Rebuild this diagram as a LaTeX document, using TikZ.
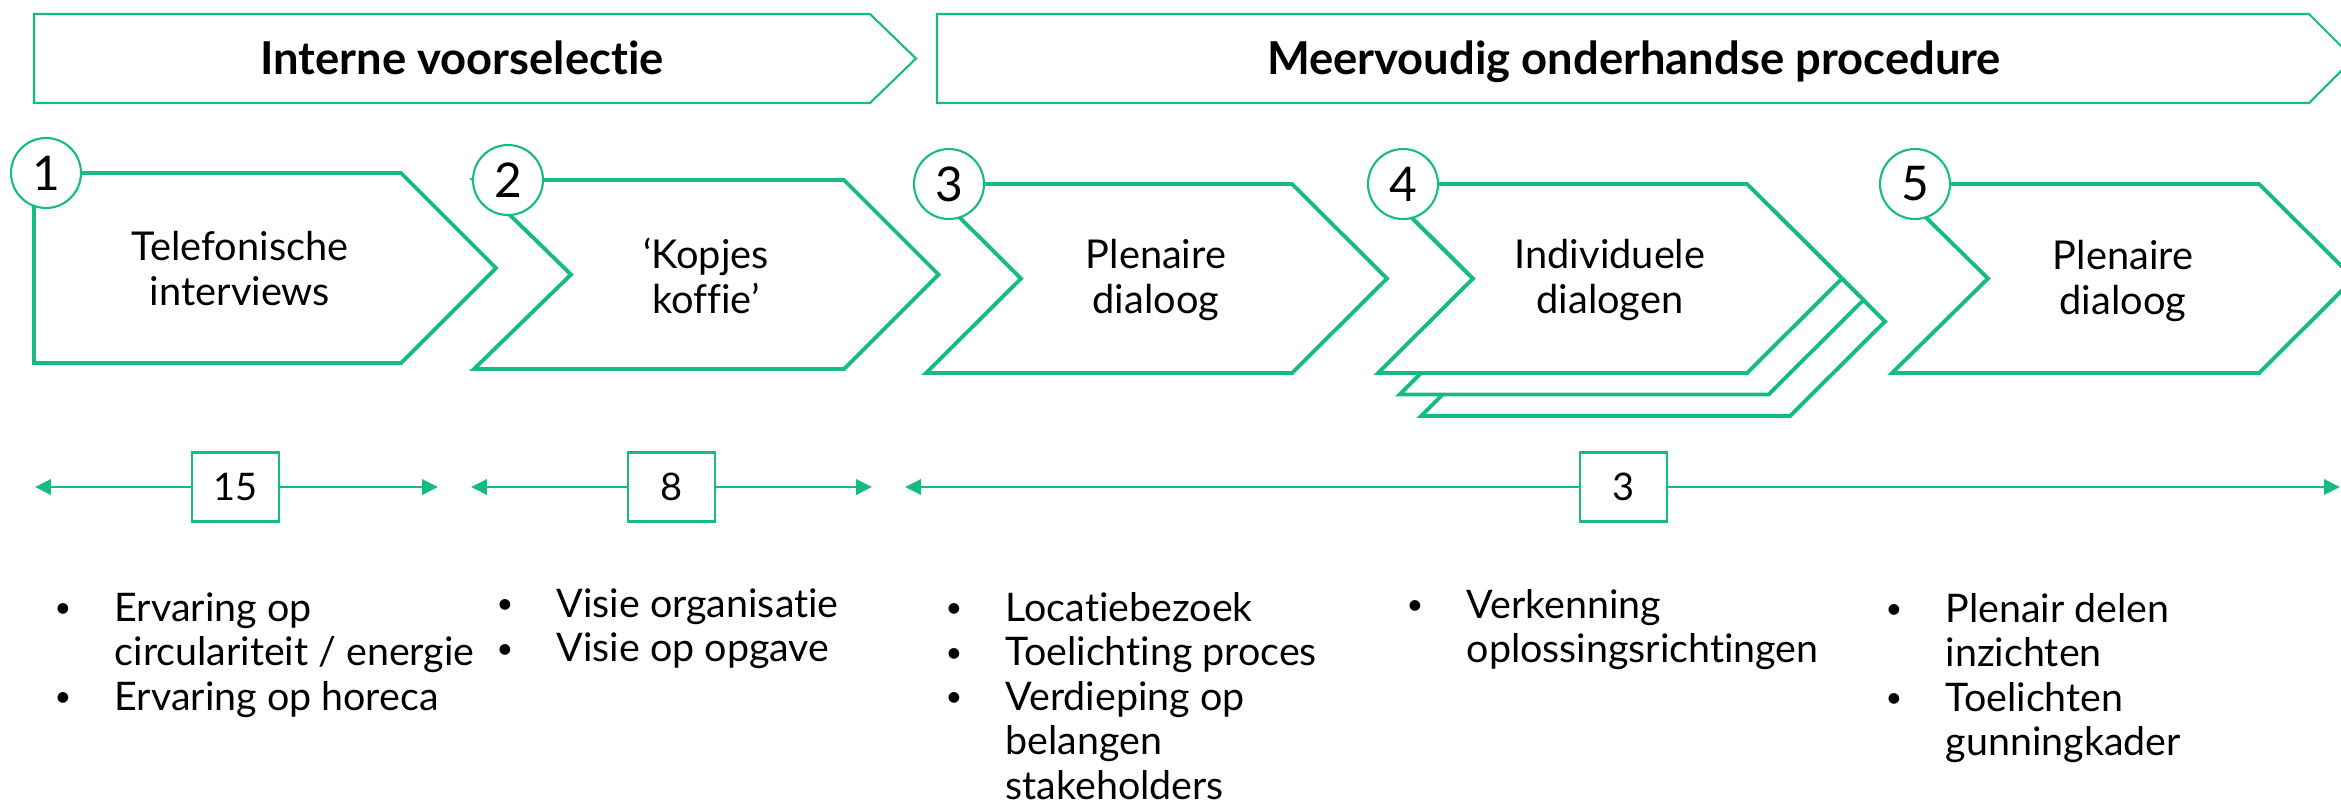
\documentclass[tikz,border=0pt]{standalone}
\usepackage{fontspec}
\setmainfont{Lato}[Ligatures={NoCommon}]
\usetikzlibrary{arrows.meta}
\definecolor{brandgreen}{RGB}{20,189,126}

% bullet list helpers: a small bullet in a fixed-width slot, or an indent of the same width
\newcommand{\bul}[1]{\makebox[17.07pt][l]{\raisebox{0.9pt}{\fontsize{8.2pt}{8.2pt}\selectfont •}}#1}
\newcommand{\cnt}[1]{\hspace*{17.07pt}#1}

\tikzset{
  banner/.style={draw=brandgreen, line width=0.6pt, line join=miter},
  chev/.style={draw=brandgreen, line width=1.1pt, fill=white, line join=miter},
  numcirc/.style={circle, draw=brandgreen, line width=0.6pt, fill=white,
    minimum size=19.9pt, inner sep=0pt,
    font=\fontsize{13.6pt}{16pt}\selectfont},
  countbox/.style={rectangle, draw=brandgreen, line width=0.75pt, fill=white,
    minimum width=24.75pt, minimum height=19.6pt, inner sep=0pt,
    font=\fontsize{10.8pt}{12.66pt}\selectfont},
  span/.style={draw=brandgreen, line width=0.75pt,
    -{Triangle[length=4.5pt,width=4.3pt]}},
  steptext/.style={anchor=base, inner sep=0pt,
    font=\fontsize{11.3pt}{12.8pt}\selectfont},
  bullets/.style={anchor=base west, inner sep=0pt,
    font=\fontsize{11.2pt}{12.66pt}\selectfont},
  title/.style={anchor=base, inner sep=0pt,
    font=\bfseries\fontsize{12.9pt}{15pt}\selectfont},
}

\begin{document}
\begin{tikzpicture}[x=0.01cm, y=-0.01cm]
\clip (0,0) rectangle (2341,805);

% phase banners
\draw[banner] (34,14) -- (870,14) -- (916,58.5) -- (870,103) -- (34,103) -- cycle;
\draw[banner] (937,14) -- (2309,14) -- (2353.5,58.5) -- (2309,103) -- (937,103) -- cycle;
\node[title] (h1) at (462,74) {Interne voorselectie};
\node[title] (h2) at (1634,74) {Meervoudig onderhandse procedure};

% step 1
\draw[chev] (34,173) -- (401,173) -- (496,268) -- (401,363) -- (34,363) -- cycle;
\node[steptext] (t1) at (240,260) {\begin{tabular}[t]{@{}c@{}}Telefonische\\interviews\end{tabular}};
\node[numcirc] (n1) at (46,173) {1};

% step 2
\draw[chev] (474,180) -- (844,180) -- (938.5,274.5) -- (844,369) -- (474,369) -- (571,274.5) -- cycle;
\node[steptext] (t2) at (706,268) {\begin{tabular}[t]{@{}c@{}}‘Kopjes\\koffie’\end{tabular}};
\node[numcirc] (n2) at (508,180) {2};

% step 3
\draw[chev] (926,184) -- (1292,184) -- (1387,278.5) -- (1292,373) -- (926,373) -- (1021,278.5) -- cycle;
\node[steptext] (t3) at (1156,268) {\begin{tabular}[t]{@{}c@{}}Plenaire\\dialoog\end{tabular}};
\node[numcirc] (n3) at (949,184) {3};

% step 4: a stack of three chevrons, drawn back to front
\foreach \d in {43,21.5,0} {
  \draw[chev, shift={(\d,\d)}] (1378,184) -- (1747,184) -- (1842,278.5) -- (1747,373) -- (1378,373) -- (1473,278.5) -- cycle;
}
\node[steptext] (t4) at (1610,268) {\begin{tabular}[t]{@{}c@{}}Individuele\\dialogen\end{tabular}};
\node[numcirc] (n4) at (1403,184) {4};

% step 5
\draw[chev] (1892,184) -- (2259,184) -- (2354,278.5) -- (2259,373) -- (1892,373) -- (1988,278.5) -- cycle;
\node[steptext] (t5) at (2123,269) {\begin{tabular}[t]{@{}c@{}}Plenaire\\dialoog\end{tabular}};
\node[numcirc] (n5) at (1915,184) {5};

% spans with counts
\node[countbox] (c15) at (235.5,487) {15};
\node[countbox] (c8) at (671.5,487) {8};
\node[countbox] (c3) at (1623.5,487) {3};
\coordinate (s1l) at (35,487);
\coordinate (s1r) at (438,487);
\coordinate (s2l) at (471,487);
\coordinate (s2r) at (872,487);
\coordinate (s3l) at (905,487);
\coordinate (s3r) at (2340,487);
\draw[span] (c15) -- (s1l);
\draw[span] (c15) -- (s1r);
\draw[span] (c8) -- (s2l);
\draw[span] (c8) -- (s2r);
\draw[span] (c3) -- (s3l);
\draw[span] (c3) -- (s3r);

% bullet lists
\node[bullets] (l1) at (54,621) {\begin{tabular}[t]{@{}l@{}}
  \bul{Ervaring op}\\ \cnt{circulariteit / energie}\\ \bul{Ervaring op horeca}\end{tabular}};
\node[bullets] (l2) at (496,617) {\begin{tabular}[t]{@{}l@{}}
  \bul{Visie organisatie}\\ \bul{Visie op opgave}\end{tabular}};
\node[bullets] (l3) at (945,621) {\begin{tabular}[t]{@{}l@{}}
  \bul{Locatiebezoek}\\ \bul{Toelichting proces}\\ \bul{Verdieping op}\\
  \cnt{belangen}\\ \cnt{stakeholders}\end{tabular}};
\node[bullets] (l4) at (1406,618) {\begin{tabular}[t]{@{}l@{}}
  \bul{Verkenning}\\ \cnt{oplossingsrichtingen}\end{tabular}};
\node[bullets] (l5) at (1885,622) {\begin{tabular}[t]{@{}l@{}}
  \bul{Plenair delen}\\ \cnt{inzichten}\\ \bul{Toelichten}\\ \cnt{gunningkader}\end{tabular}};
\end{tikzpicture}
\end{document}
